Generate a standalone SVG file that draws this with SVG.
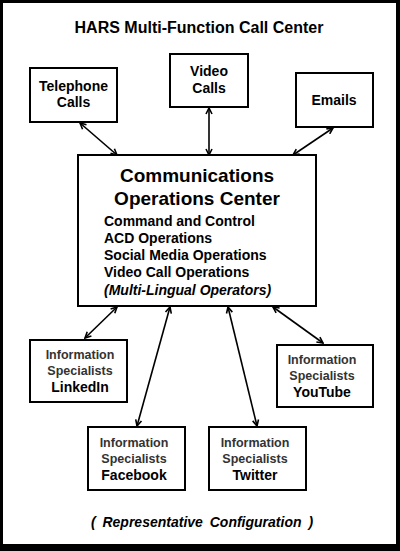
<svg xmlns="http://www.w3.org/2000/svg" width="400" height="551" viewBox="0 0 400 551">
<defs>
<marker id="ah" markerWidth="8" markerHeight="8" refX="7" refY="4" orient="auto-start-reverse" markerUnits="userSpaceOnUse">
<path d="M1,1 L7,4 L1,7" fill="none" stroke="#000" stroke-width="1.6"/>
</marker>
<style>
.box{fill:#fff;stroke:#000;stroke-width:2}
.t{font-family:"Liberation Sans",Arial,sans-serif;font-weight:bold;fill:#000;text-anchor:middle}
.s{font-family:"Liberation Sans",Arial,sans-serif;font-weight:bold;fill:#333;text-anchor:middle;font-size:12.5px}
.l{font-family:"Liberation Sans",Arial,sans-serif;font-weight:bold;fill:#000;font-size:14px}
.c{stroke:#000;stroke-width:1.6;fill:none;marker-start:url(#ah);marker-end:url(#ah)}
</style>
</defs>
<rect x="0" y="0" width="400" height="551" fill="#000"/>
<rect x="3" y="3" width="393" height="541" fill="#fff"/>
<text class="t" x="199" y="33" font-size="16">HARS Multi-Function Call Center</text>
<g id="connectors">
<line class="c" x1="80" y1="123" x2="117" y2="155"/>
<line class="c" x1="209" y1="108" x2="209" y2="155"/>
<line class="c" x1="333" y1="128" x2="293" y2="155"/>
<line class="c" x1="117" y1="307" x2="85" y2="338"/>
<line class="c" x1="170" y1="307" x2="137" y2="426"/>
<line class="c" x1="228" y1="307" x2="257" y2="426"/>
<line class="c" x1="273" y1="307" x2="323" y2="343"/>
</g>
<g id="telephone">
<rect class="box" x="30" y="68" width="87" height="54"/>
<text class="t" x="73.5" y="91" font-size="14">Telephone</text>
<text class="t" x="73.5" y="107" font-size="14">Calls</text>
</g>
<g id="video">
<rect class="box" x="170" y="54" width="78" height="53"/>
<text class="t" x="209" y="76" font-size="14">Video</text>
<text class="t" x="209" y="93" font-size="14">Calls</text>
</g>
<g id="emails">
<rect class="box" x="296" y="73" width="77" height="54"/>
<text class="t" x="334" y="105" font-size="14">Emails</text>
</g>
<g id="coc">
<rect class="box" x="78" y="155" width="238" height="151"/>
<text class="t" x="197" y="182" font-size="19">Communications</text>
<text class="t" x="197" y="205" font-size="19">Operations Center</text>
<text class="l" x="104" y="226">Command and Control</text>
<text class="l" x="104" y="243">ACD Operations</text>
<text class="l" x="104" y="260">Social Media Operations</text>
<text class="l" x="104" y="277">Video Call Operations</text>
<text class="l" x="104" y="295" font-style="italic">(Multi-Lingual Operators)</text>
</g>
<g id="linkedin">
<rect class="box" x="30" y="340" width="97" height="62"/>
<text class="s" x="80" y="359">Information</text>
<text class="s" x="80" y="375">Specialists</text>
<text class="t" x="80" y="392" font-size="14">LinkedIn</text>
</g>
<g id="youtube">
<rect class="box" x="277" y="345" width="96" height="62"/>
<text class="s" x="322" y="364">Information</text>
<text class="s" x="322" y="380">Specialists</text>
<text class="t" x="322" y="397" font-size="14">YouTube</text>
</g>
<g id="facebook">
<rect class="box" x="88" y="427" width="97" height="63"/>
<text class="s" x="134" y="447">Information</text>
<text class="s" x="134" y="463">Specialists</text>
<text class="t" x="134" y="480" font-size="14">Facebook</text>
</g>
<g id="twitter">
<rect class="box" x="209" y="427" width="97" height="63"/>
<text class="s" x="255" y="447">Information</text>
<text class="s" x="255" y="463">Specialists</text>
<text class="t" x="255" y="480" font-size="14">Twitter</text>
</g>
<text class="t" x="202" y="527" font-size="14" font-style="italic" word-spacing="3">( Representative Configuration )</text>
</svg>
